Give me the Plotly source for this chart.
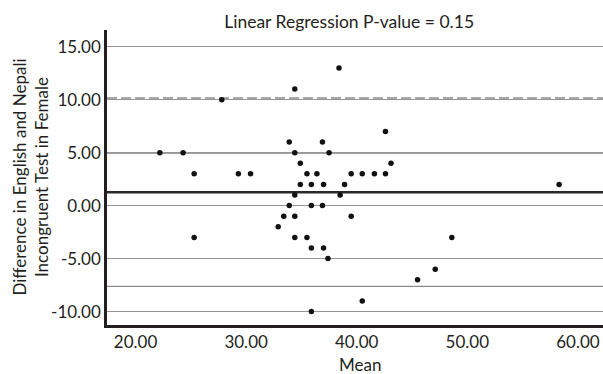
import plotly.graph_objects as go

# Mean of the two test scores (x) and their difference (y), one point per participant
mean_score = [22.2, 24.3, 25.3, 25.3, 27.8, 29.3, 30.4, 34.4, 33.9, 34.4,
              34.9, 35.5, 36.4, 34.9, 35.9, 34.4, 33.9, 35.9, 33.4, 34.4,
              32.9, 34.4, 35.5, 35.9, 35.9, 36.9, 37.5, 38.4, 37.0, 38.9,
              38.5, 36.9, 39.5, 37.0, 37.4, 39.5, 40.5, 41.6, 42.6, 42.6,
              43.1, 40.5, 45.5, 47.1, 48.6, 58.3]
difference = [5, 5, 3, -3, 10, 3, 3, 11, 6, 5,
              4, 3, 3, 2, 2, 1, 0, 0, -1, -1,
              -2, -3, -3, -4, -10, 6, 5, 13, 2, 2,
              1, 0, -1, -4, -5, 3, 3, 3, 3, 7,
              4, -9, -7, -6, -3, 2]

# Reference lines: mean difference and limits of agreement
mean_diff = 1.26
upper_loa = 10.15
lower_loa = -7.63

x_ticks = [20, 30, 40, 50, 60]
x_tick_text = ["20.00", "30.00", "40.00", "50.00", "60.00"]
y_ticks = [-10, -5, 0, 5, 10, 15]
y_tick_text = ["-10.00", "-5.00", "0.00", "5.00", "10.00", "15.00"]

FONT = "Lato"
TEXT = "#231f20"

fig = go.Figure()

fig.add_trace(go.Scatter(
    x=mean_score, y=difference, mode="markers",
    marker=dict(color="#111111", size=5.5),
    showlegend=False, hoverinfo="x+y",
))

def hline(y, color, width, dash="solid"):
    fig.add_shape(type="line", xref="paper", x0=0, x1=1, yref="y", y0=y, y1=y,
                  line=dict(color=color, width=width, dash=dash), layer="below")

hline(5, "#444444", 1.5)
hline(upper_loa, "#a8a8a8", 2.2, "10px,4px")
hline(lower_loa, "#8c8c8c", 1.3)
hline(mean_diff, "#2a2a2a", 2.6)

# Axis titles placed as annotations so the plot area keeps its fixed margins
fig.add_annotation(text="Mean", xref="paper", yref="paper", x=0.51, y=-0.133,
                   xanchor="center", yanchor="middle", showarrow=False,
                   font=dict(family=FONT, size=17, color=TEXT))
fig.add_annotation(text="Difference in English and Nepali<br>Incongruent Test in Female",
                   xref="paper", yref="paper", x=-0.155, y=0.5, textangle=-90,
                   xanchor="center", yanchor="middle", showarrow=False,
                   font=dict(family=FONT, size=17, color=TEXT))

fig.update_layout(
    width=603, height=374,
    margin=dict(l=107, r=0, t=30, b=49),
    paper_bgcolor="white", plot_bgcolor="white",
    font=dict(family=FONT, color=TEXT, size=17),
    title=dict(text="Linear Regression P-value = 0.15",
               x=0.579, xref="container", xanchor="center",
               y=0.941, yref="container", yanchor="middle",
               font=dict(family=FONT, size=17.5, color=TEXT)),
    xaxis=dict(range=[17.42, 62.27], tickvals=x_ticks, ticktext=x_tick_text,
               showgrid=False, zeroline=False, showline=True, automargin=False,
               linecolor=TEXT, linewidth=2.5, ticks="",
               tickfont=dict(family=FONT, size=17, color=TEXT)),
    yaxis=dict(range=[-11.27, 16.58], tickvals=y_ticks, ticktext=y_tick_text,
               showgrid=True, gridcolor="#959595", gridwidth=1.2,
               zeroline=False, showline=True, automargin=False,
               linecolor=TEXT, linewidth=2.5, ticks="",
               tickfont=dict(family=FONT, size=17, color=TEXT)),
)

fig.write_html("out.html")
